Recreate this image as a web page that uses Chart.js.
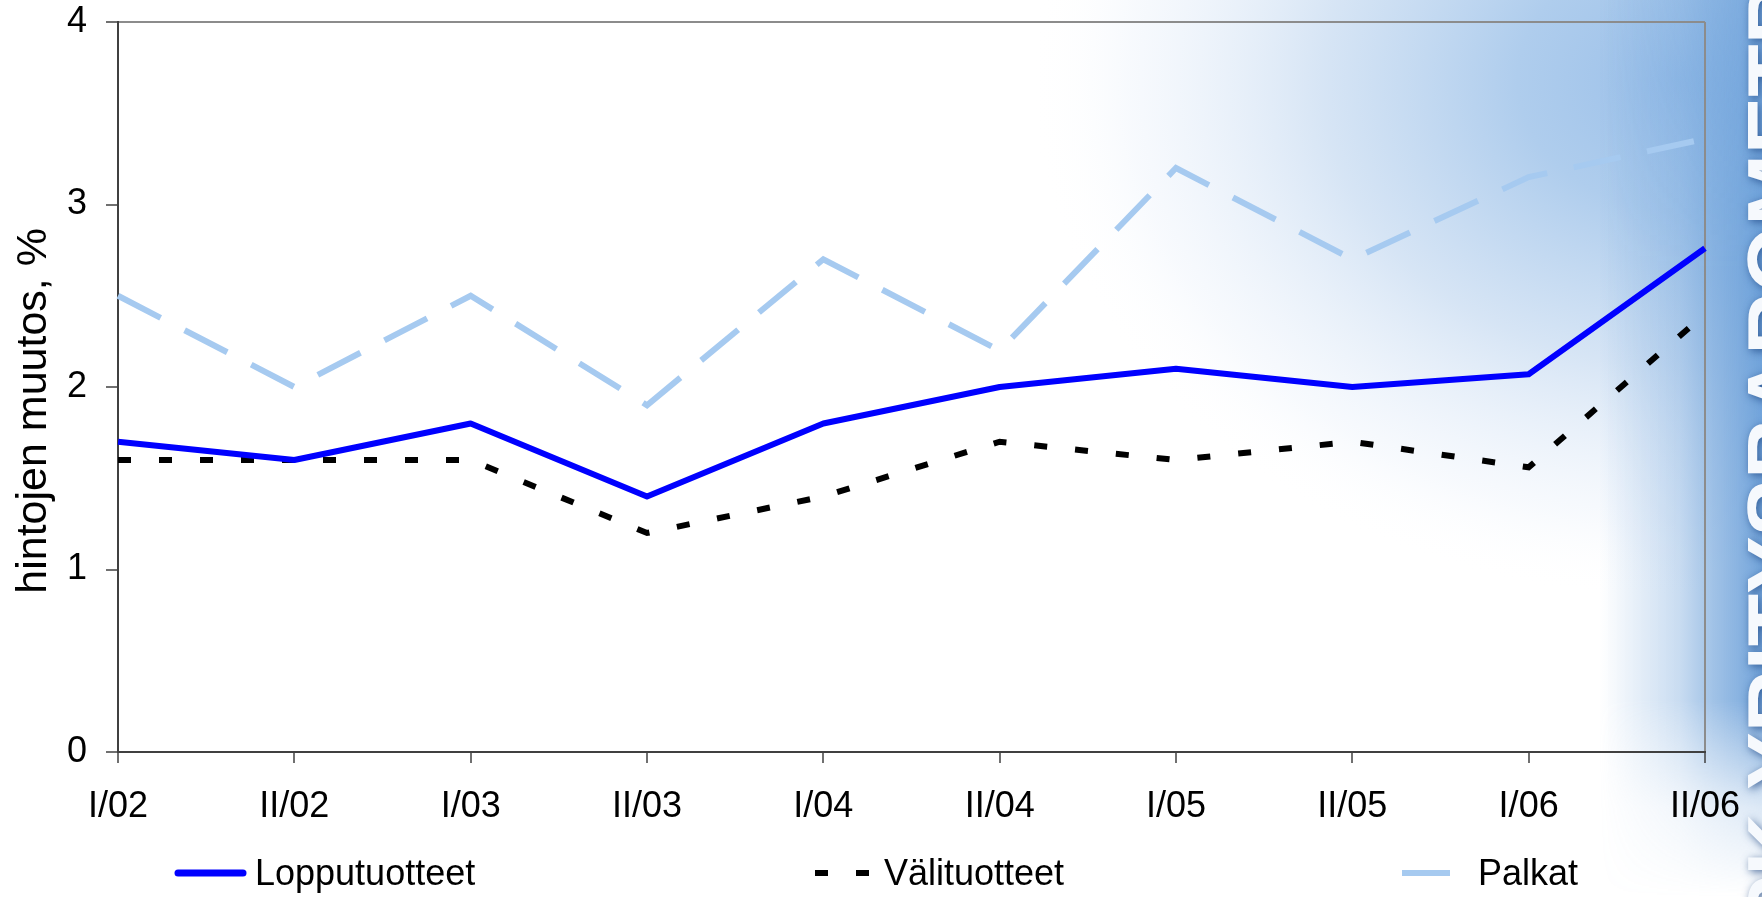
<!DOCTYPE html>
<html>
<head>
<meta charset="utf-8">
<script src="https://cdn.jsdelivr.net/npm/chart.js@4.4.1/dist/chart.umd.min.js"></script>
<style>
  html, body { margin: 0; padding: 0; background: #fff; }
  #wrap { width: 1762px; height: 897px; }
</style>
</head>
<body>
<div id="wrap"><canvas id="chart" width="1762" height="897"></canvas></div>
<script>
const categories = ["I/02", "II/02", "I/03", "II/03", "I/04", "II/04", "I/05", "II/05", "I/06", "II/06"];
const lopputuotteet = [1.7, 1.6, 1.8, 1.4, 1.8, 2.0, 2.1, 2.0, 2.07, 2.76];
const valituotteet = [1.6, 1.6, 1.6, 1.2, 1.4, 1.7, 1.6, 1.7, 1.56, 2.4];
const palkat = [2.5, 2.0, 2.5, 1.9, 2.7, 2.2, 3.2, 2.7, 3.15, 3.36];
const seriesNames = ["Lopputuotteet", "Välituotteet", "Palkat"];
const yTitle = "hintojen muutos, %";
const watermark = "PK YRITYSBAROMETRI";

const FONT = "'Liberation Sans', Arial, sans-serif";

// gradient backdrop + rotated watermark on the right edge
const backdrop = {
  id: "backdrop",
  beforeDraw(chart) {
    const ctx = chart.ctx;
    const w = chart.width, h = chart.height;
    ctx.save();
    ctx.fillStyle = "#fff";
    ctx.fillRect(0, 0, w, h);

    // soft glow in the top right
    ctx.save();
    ctx.translate(1680, 80);
    ctx.scale(1, 0.8);
    const g = ctx.createRadialGradient(0, 0, 0, 0, 0, 650);
    g.addColorStop(0, "rgba(155,192,233,1)");
    g.addColorStop(0.25, "rgba(175,205,237,1)");
    g.addColorStop(0.55, "rgba(210,226,244,0.9)");
    g.addColorStop(0.85, "rgba(240,245,252,0.5)");
    g.addColorStop(1, "rgba(255,255,255,0)");
    ctx.fillStyle = g;
    ctx.fillRect(-3000, -3000, 6000, 6000);
    ctx.restore();

    // darker band along the right edge, fading out near the bottom
    const off = document.createElement("canvas");
    off.width = w; off.height = h;
    const o = off.getContext("2d");
    const gh = o.createLinearGradient(1600, 0, 1762, 0);
    gh.addColorStop(0, "rgba(100,155,215,0)");
    gh.addColorStop(0.49, "rgba(100,155,215,0.35)");
    gh.addColorStop(0.69, "rgba(100,155,215,0.6)");
    gh.addColorStop(1, "rgba(100,155,215,0.9)");
    o.fillStyle = gh;
    o.fillRect(0, 0, w, h);
    o.globalCompositeOperation = "destination-in";
    const gv = o.createLinearGradient(0, 0, 0, h);
    gv.addColorStop(0, "rgba(0,0,0,0.8)");
    gv.addColorStop(0.3, "rgba(0,0,0,1)");
    gv.addColorStop(0.78, "rgba(0,0,0,1)");
    gv.addColorStop(0.9, "rgba(0,0,0,0.25)");
    gv.addColorStop(1, "rgba(0,0,0,0)");
    o.fillStyle = gv;
    o.fillRect(0, 0, w, h);
    ctx.drawImage(off, 0, 0);
    ctx.restore();

    ctx.save();
    ctx.translate(1740, 933);
    ctx.rotate(-Math.PI / 2);
    ctx.font = "bold 86px " + FONT;
    ctx.textBaseline = "top";
    ctx.textAlign = "left";
    ctx.shadowColor = "rgba(30,70,130,0.75)";
    ctx.shadowBlur = 8;
    ctx.shadowOffsetX = 2;
    ctx.shadowOffsetY = 2;
    ctx.fillStyle = "#f6f9fd";
    ctx.fillText(watermark, 0, 0);
    ctx.restore();
  }
};

// legend row drawn under the axis, one sample line per series
const legendRow = {
  id: "legendRow",
  afterDraw(chart) {
    const ctx = chart.ctx;
    const starts = [175, 804, 1398];
    const y = 873;
    chart.data.datasets.forEach((ds, i) => {
      const x = starts[i];
      ctx.save();
      ctx.strokeStyle = ds.borderColor;
      ctx.lineWidth = i === 0 ? 7 : 6;
      ctx.lineCap = i === 0 ? "round" : "butt";
      ctx.setLineDash(ds.borderDash || []);
      ctx.lineDashOffset = ds.legendDashOffset || 0;
      ctx.beginPath();
      ctx.moveTo(x + (i === 0 ? 3 : 0), y);
      ctx.lineTo(x + (i === 0 ? 68 : 71), y);
      ctx.stroke();
      ctx.setLineDash([]);
      ctx.fillStyle = "#000";
      ctx.font = "36px " + FONT;
      ctx.textBaseline = "middle";
      ctx.textAlign = "left";
      ctx.fillText(ds.label, x + 80, y + 2);
      ctx.restore();
    });
  }
};

const ctx = document.getElementById("chart").getContext("2d");
new Chart(ctx, {
  type: "line",
  data: {
    labels: categories,
    datasets: [
      {
        label: seriesNames[0],
        data: lopputuotteet,
        borderColor: "#0000ff",
        borderWidth: 6,
        borderJoinStyle: "round"
      },
      {
        label: seriesNames[1],
        data: valituotteet,
        borderColor: "#000000",
        borderWidth: 6,
        borderDash: [13, 28],
        legendDashOffset: 30
      },
      {
        label: seriesNames[2],
        data: palkat,
        borderColor: "#a6caf0",
        borderWidth: 6,
        borderDash: [48, 27],
        legendDashOffset: 71
      }
    ]
  },
  options: {
    responsive: false,
    animation: false,
    devicePixelRatio: 1,
    layout: { padding: { top: 22, right: 50, left: 0, bottom: 0 } },
    elements: {
      point: { radius: 0, hoverRadius: 0 },
      line: { tension: 0, fill: false, borderCapStyle: "butt" }
    },
    plugins: {
      legend: { display: false },
      tooltip: { enabled: false }
    },
    scales: {
      x: {
        offset: false,
        border: { color: "#404040", width: 2 },
        grid: {
          color: (c) => c.index === categories.length - 1 ? "#8c8c8c" : "rgba(0,0,0,0)",
          lineWidth: 2,
          tickLength: 11,
          tickColor: "#404040",
          tickWidth: 1.5
        },
        ticks: {
          color: "#000",
          font: { size: 36, family: FONT },
          padding: 22,
          maxRotation: 0,
          autoSkip: false
        },
        afterFit: (s) => { s.height = 145; }
      },
      y: {
        min: 0,
        max: 4,
        border: { color: "#404040", width: 2 },
        grid: {
          color: (c) => c.tick && c.tick.value === 4 ? "#8c8c8c" : "rgba(0,0,0,0)",
          lineWidth: 2,
          tickLength: 12,
          tickColor: "#404040",
          tickWidth: 1.5
        },
        ticks: {
          stepSize: 1,
          color: "#000",
          font: { size: 36, family: FONT },
          padding: 19
        },
        title: {
          display: true,
          // trailing spaces push the centred title down to where the original sits
          text: yTitle + "\u00a0\u00a0\u00a0\u00a0",
          color: "#000",
          font: { size: 43, family: FONT },
          padding: { top: 8, bottom: 0 }
        },
        afterFit: (s) => {
          s.width = 118;
          s.paddingTop = 0;
          s.paddingBottom = 0;
        }
      }
    }
  },
  plugins: [backdrop, legendRow]
});
</script>
</body>
</html>
